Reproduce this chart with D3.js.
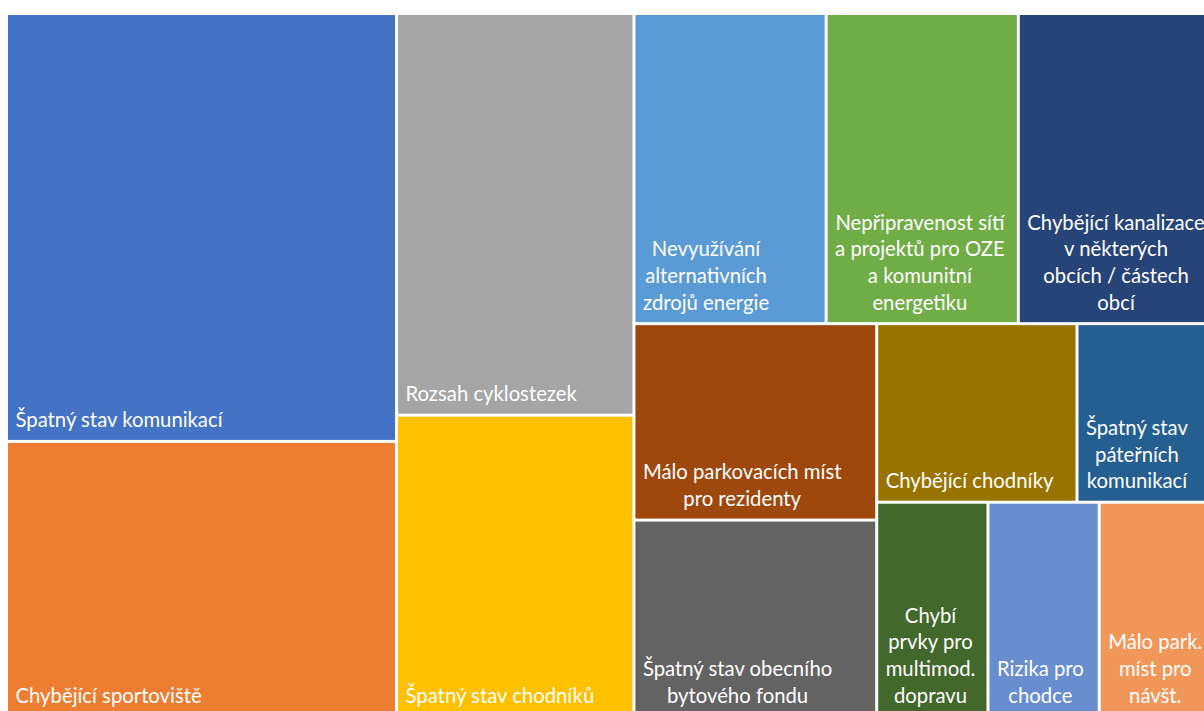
<!DOCTYPE html>
<html>
<head>
<meta charset="utf-8">
<script src="https://cdn.jsdelivr.net/npm/d3@7"></script>
<style>
  body { margin: 0; background: #fff; }
  svg { display: block; }
</style>
</head>
<body>
<div id="chart"></div>
<script>
// tile labels (line breaks as Excel wrapped them)
const labels = [
  "Špatný stav komunikací",
  "Chybějící sportoviště",
  "Rozsah cyklostezek",
  "Špatný stav chodníků",
  "Nevyužívání\nalternativních\nzdrojů energie",
  "Nepřipravenost sítí\na projektů pro OZE\na komunitní\nenergetiku",
  "Chybějící kanalizace\nv některých\nobcích / částech\nobcí",
  "Málo parkovacích míst\npro rezidenty",
  "Špatný stav obecního\nbytového fondu",
  "Chybějící chodníky",
  "Špatný stav\npáteřních\nkomunikací",
  "Chybí\nprvky pro\nmultimod.\ndopravu",
  "Rizika pro\nchodce",
  "Málo park.\nmíst pro\nnávšt."
];

const values = [14, 9, 8, 6, 5, 5, 5, 4, 4, 3, 2, 2, 2, 2];

const colors = [
  "#4472C4", "#ED7D31", "#A5A5A5", "#FFC000", "#5B9BD5", "#70AD47", "#264478",
  "#9E480E", "#636363", "#997300", "#255E91", "#43682B", "#698ED0", "#F1975A"
];

// how Excel grouped the tiles (indexes into the arrays above)
const arrangement = [[0, 1], [2, 3], [[4, 5, 6], [[7, 8], [[9, 10], [11, 12, 13]]]]];

const width = 1204, height = 711;
const margin = { left: 8, top: 15 },
  plotW = 1201, plotH = 700;

const svg = d3.select("#chart")
  .append("svg")
  .attr("width", width)
  .attr("height", height);

const root = d3.hierarchy(arrangement, d => Array.isArray(d) ? d : null)
  .sum(d => Array.isArray(d) ? 0 : values[d]);

d3.treemap()
  .tile(d3.treemapSliceDice)
  .size([plotW, plotH])
  .paddingInner(3)
  .round(false)(root);

const g = svg.append("g")
  .attr("transform", `translate(${margin.left}, ${margin.top})`);

const cell = g.selectAll("g.cell")
  .data(root.leaves())
  .enter()
  .append("g")
  .attr("class", "cell");

cell.append("rect")
  .attr("x", d => d.x0)
  .attr("y", d => d.y0)
  .attr("width", d => d.x1 - d.x0)
  .attr("height", d => d.y1 - d.y0)
  .attr("fill", d => colors[d.data]);

const lineH = 26.6;

cell.each(function(d) {
  const lines = labels[d.data].split("\n");
  const text = d3.select(this).append("text")
    .style("font-family", "Lato, 'Open Sans', sans-serif")
    .style("font-size", "20.3px")
    .style("fill", "#fff")
    .attr("text-anchor", "middle");

  const spans = lines.map((l, i) => text.append("tspan")
    .attr("y", d.y1 - 12.5 - (lines.length - 1 - i) * lineH)
    .text(l));

  // block sits at the left padding, lines centred within it
  const maxW = d3.max(spans, s => s.node().getComputedTextLength());
  spans.forEach(s => s.attr("x", d.x0 + 7.5 + maxW / 2));
});
</script>
</body>
</html>
